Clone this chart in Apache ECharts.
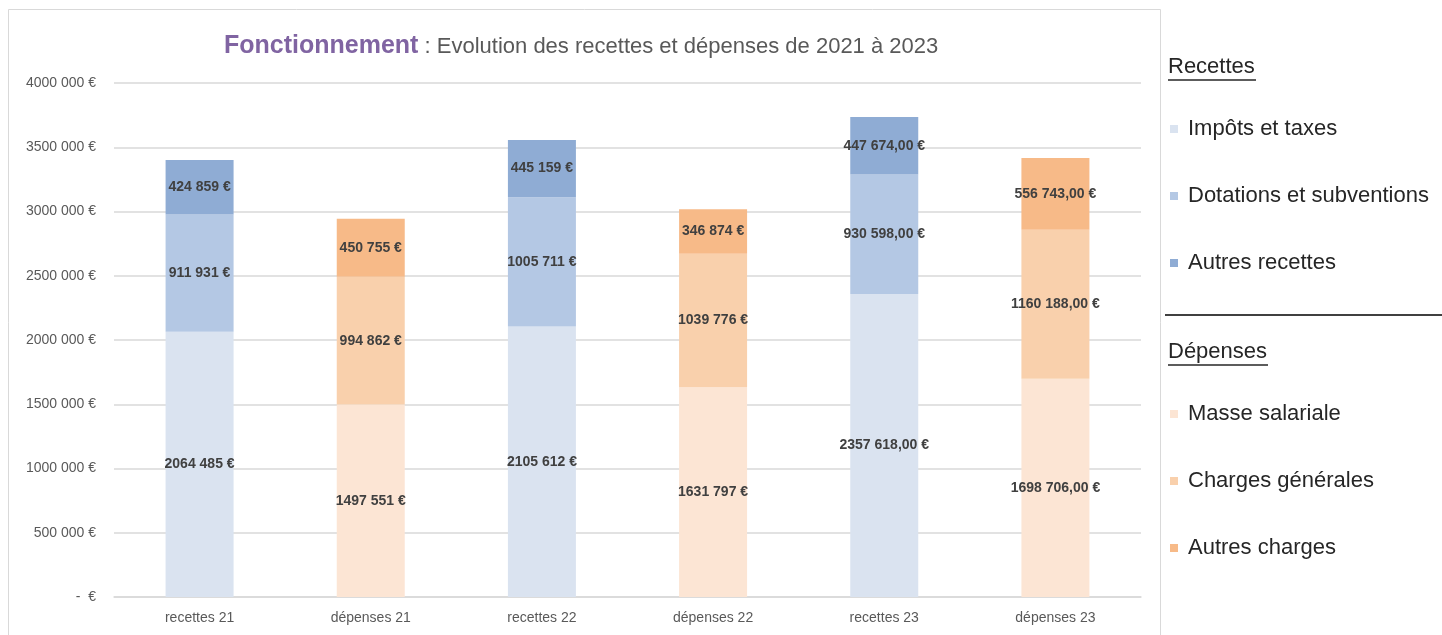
<!DOCTYPE html>
<html>
<head>
<meta charset="utf-8">
<script src="https://cdn.jsdelivr.net/npm/echarts@6/dist/echarts.min.js"></script>
<style>
html,body{margin:0;padding:0;background:#fff;}
#main{width:1442px;height:635px;}
</style>
</head>
<body>
<div id="main"></div>
<script>
// ---- DATA ----
const categories = ['recettes 21', 'dépenses 21', 'recettes 22', 'dépenses 22', 'recettes 23', 'dépenses 23'];
// decimals shown in the data labels for each category
const labelDecimals = [0, 0, 0, 0, 2, 2];
// recettes (categories recettes 21 / 22 / 23)
const impotsTaxes = [2064485, 2105612, 2357618];
const dotationsSubventions = [911931, 1005711, 930598];
const autresRecettes = [424859, 445159, 447674];
// dépenses (categories dépenses 21 / 22 / 23)
const masseSalariale = [1497551, 1631797, 1698706];
const chargesGenerales = [994862, 1039776, 1160188];
const autresCharges = [450755, 346874, 556743];
const yTicks = { min: 0, max: 4000000, interval: 500000 };

// ---- helpers ----
function spread(vals, offset) {
  const out = categories.map(() => null);
  vals.forEach((v, i) => { out[i * 2 + offset] = v; });
  return out;
}
function fmtNum(v, dec) {
  const ip = Math.floor(v);
  let s = String(ip);
  if (s.length > 3) s = s.slice(0, s.length - 3) + ' ' + s.slice(s.length - 3);
  if (dec > 0) s += ',' + (v - ip).toFixed(dec).slice(2);
  return s + ' €';
}

const narrow = "'Liberation Sans Narrow', 'Arial Narrow', 'Liberation Sans', Arial, sans-serif";
const sans = "'Liberation Sans', Arial, sans-serif";

function mkSeries(name, vals, offset, color) {
  return {
    name: name,
    type: 'bar',
    stack: 'total',
    barWidth: 68,
    data: spread(vals, offset),
    itemStyle: { color: color },
    label: {
      show: true,
      position: 'inside',
      fontFamily: narrow,
      fontWeight: 'bold',
      fontSize: 14,
      color: '#404040',
      formatter: p => fmtNum(p.value, labelDecimals[p.dataIndex])
    },
    emphasis: { disabled: true }
  };
}

const chart = echarts.init(document.getElementById('main'), null, { renderer: 'canvas' });
const recNames = ['Impôts et taxes', 'Dotations et subventions', 'Autres recettes'];
const depNames = ['Masse salariale', 'Charges générales', 'Autres charges'];
const legendText = { fontFamily: sans, fontSize: 22, color: '#262626', padding: [0, 0, 0, 5], lineHeight: 22 };

chart.setOption({
  backgroundColor: '#ffffff',
  animation: false,
  title: {
    left: 219,
    top: 29,
    text: '{a|Fonctionnement}{b| : Evolution des recettes et dépenses de 2021 à 2023}',
    textStyle: {
      rich: {
        a: { fontFamily: sans, fontWeight: 'bold', fontSize: 25, color: '#8064A2' },
        b: { fontFamily: sans, fontWeight: 'normal', fontSize: 22, color: '#595959' }
      }
    }
  },
  grid: { left: 114, right: 301, top: 83, bottom: 38, containLabel: false },
  xAxis: {
    type: 'category',
    data: categories,
    axisTick: { show: false },
    axisLine: { lineStyle: { color: '#d9d9d9', width: 1.5 } },
    axisLabel: { fontFamily: narrow, fontSize: 14, color: '#595959', margin: 14 }
  },
  yAxis: {
    type: 'value',
    min: yTicks.min,
    max: yTicks.max,
    interval: yTicks.interval,
    axisLine: { show: false },
    axisTick: { show: false },
    splitLine: { lineStyle: { color: '#d9d9d9', width: 1.5 } },
    axisLabel: {
      fontFamily: sans, fontSize: 14, color: '#595959', margin: 18,
      formatter: v => v === 0 ? '-  €' : fmtNum(v, 0)
    }
  },
  legend: [
    {
      orient: 'vertical', left: 1170, top: 118, padding: 0,
      data: recNames, icon: 'rect', itemWidth: 8, itemHeight: 8, itemGap: 45,
      textStyle: legendText, selectedMode: false
    },
    {
      orient: 'vertical', left: 1170, top: 403, padding: 0,
      data: depNames, icon: 'rect', itemWidth: 8, itemHeight: 8, itemGap: 45,
      textStyle: legendText, selectedMode: false
    }
  ],
  graphic: [
    { type: 'rect', shape: { x: 8.5, y: 9.5, width: 1152, height: 640 }, style: { fill: 'none', stroke: '#d9d9d9', lineWidth: 1 }, silent: true },
    { type: 'text', left: 1168, top: 56, style: { text: 'Recettes', fontFamily: sans, fontSize: 22, fill: '#262626' } },
    { type: 'line', shape: { x1: 1168, y1: 80, x2: 1256, y2: 80 }, style: { stroke: '#262626', lineWidth: 1.5 } },
    { type: 'line', shape: { x1: 1165, y1: 315, x2: 1442, y2: 315 }, style: { stroke: '#404040', lineWidth: 2 } },
    { type: 'text', left: 1168, top: 341, style: { text: 'Dépenses', fontFamily: sans, fontSize: 22, fill: '#262626' } },
    { type: 'line', shape: { x1: 1168, y1: 365, x2: 1268, y2: 365 }, style: { stroke: '#262626', lineWidth: 1.5 } }
  ],
  series: [
    mkSeries('Impôts et taxes', impotsTaxes, 0, '#DAE3F0'),
    mkSeries('Dotations et subventions', dotationsSubventions, 0, '#B4C8E4'),
    mkSeries('Autres recettes', autresRecettes, 0, '#8FACD4'),
    mkSeries('Masse salariale', masseSalariale, 1, '#FCE5D4'),
    mkSeries('Charges générales', chargesGenerales, 1, '#F9D0AC'),
    mkSeries('Autres charges', autresCharges, 1, '#F7BA88')
  ]
});
</script>
</body>
</html>
